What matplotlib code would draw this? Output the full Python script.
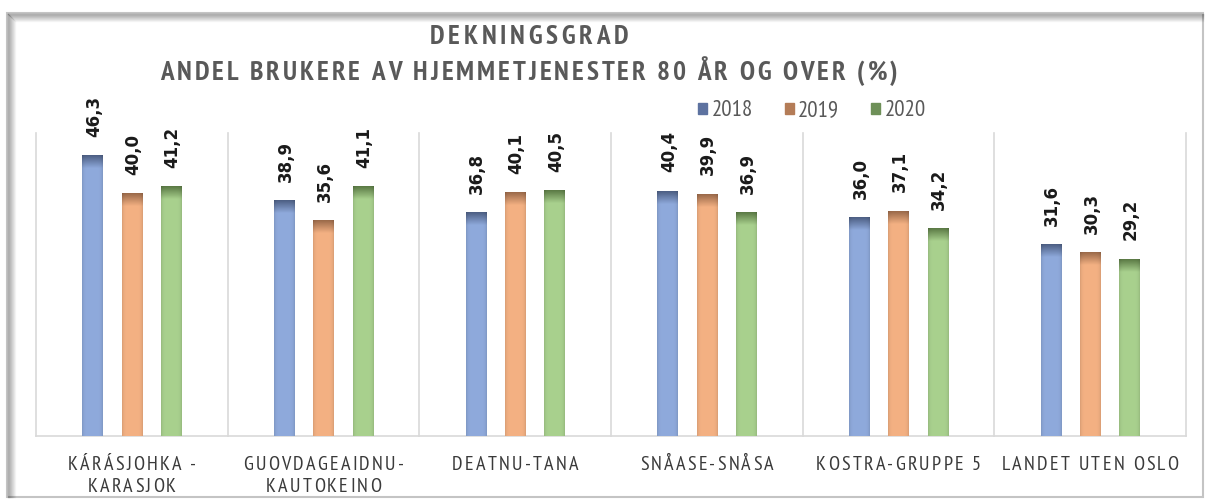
import numpy as np
import matplotlib
matplotlib.use("Agg")
import matplotlib.pyplot as plt
from matplotlib.font_manager import FontProperties, findfont, get_font
from matplotlib.transforms import offset_copy, blended_transform_factory
from matplotlib.patches import Patch, Rectangle
from matplotlib.lines import Line2D

# -----------------------------
# Data
# -----------------------------
categories = ["KÁRÁSJOHKA -\nKARASJOK", "GUOVDAGEAIDNU-\nKAUTOKEINO", "DEATNU-TANA",
              "SNÅASE-SNÅSA", "KOSTRA-GRUPPE 5", "LANDET UTEN OSLO"]
years = ["2018", "2019", "2020"]
values_2018 = [46.3, 38.9, 36.8, 40.4, 36.0, 31.6]
values_2019 = [40.0, 35.6, 40.1, 39.9, 37.1, 30.3]
values_2020 = [41.2, 41.1, 40.5, 36.9, 34.2, 29.2]

title_1 = "DEKNINGSGRAD"
title_2 = "ANDEL BRUKERE AV HJEMMETJENESTER 80 ÅR OG OVER (%)"

# light body colour, dark top colour, legend colour
light_cols = ["#8faadc", "#f4b183", "#a9d18e"]
dark_cols = ["#4d5f84", "#9b6a4a", "#5b7a45"]
legend_cols = ["#5d72a0", "#b47c57", "#6e9058"]

# Narrow humanist font for the texts (the chart looks horizontally squeezed)
FAMILY = ["PT Sans Narrow", "DejaVu Sans"]

W, H = 1205, 499
fig = plt.figure(figsize=(W / 100, H / 100), dpi=100)
ax = fig.add_axes([36 / W, 1 - 436 / H, (1186 - 36) / W, (436 - 133) / H])


def px(x, y):
    # converts figure pixels (from top-left) to figure fraction
    return x / W, 1 - y / H


def tracked_text(x, y, s, size, trans, target=None, track=0.0, weight="normal", color="#404040"):
    # draws text one character at a time so that letter spacing can be set
    fp = FontProperties(family=FAMILY, size=size, weight=weight)
    ft = get_font(findfont(fp))
    ft.set_size(size, 72)
    adv = [ft.load_char(ord(c)).linearHoriAdvance / 65536 for c in s]
    if target is not None:
        track = (target - sum(adv)) / (len(s) - 1)
    total = sum(adv) + track * (len(s) - 1)
    pos = -total / 2
    for c, a in zip(s, adv):
        fig.text(x, y, c, fontproperties=fp, color=color, ha="left", va="baseline",
                 transform=offset_copy(trans, fig=fig, x=pos, y=0, units="points"))
        pos += a + track


def shade_bar(patch, light, dark, fade=2.1):
    # paints a bar with a darker top fading into the body colour
    x0, y0 = patch.get_x(), patch.get_y()
    w, h = patch.get_width(), patch.get_height()
    lc = np.array(matplotlib.colors.to_rgb(light))
    dc = np.array(matplotlib.colors.to_rgb(dark))
    yy = np.linspace(0, h, 300)
    t = np.clip((h - yy) / fade, 0, 1)[:, None, None]
    img = dc + (lc - dc) * t
    xx = np.linspace(-1, 1, 24)
    edge = (1 - 0.10 * xx ** 6)[None, :, None]
    img = np.clip(img * edge, 0, 1)
    ax.imshow(img, extent=[x0, x0 + w, y0, y0 + h], origin="lower", aspect="auto",
              interpolation="bilinear", zorder=3)


# -----------------------------
# Bars
# -----------------------------
x = np.arange(len(categories))
offsets = [-0.205, 0.0, 0.205]
bar_w = 0.105
for vals, off, lc, dc in zip([values_2018, values_2019, values_2020], offsets, light_cols, dark_cols):
    bars = ax.bar(x + off, vals, width=bar_w, color=lc, zorder=2)
    for patch, v in zip(bars, vals):
        shade_bar(patch, lc, dc)
        ax.annotate(f"{v:.1f}".replace(".", ","), (patch.get_x() + bar_w / 2, v),
                    xytext=(1, 13.5), textcoords="offset points", rotation=90,
                    ha="center", va="bottom", fontsize=12, fontweight="bold",
                    family="DejaVu Sans", color="#1a1a1a")

ax.set_xlim(-0.5, len(categories) - 0.5)
ax.set_ylim(0, 50)
for b in np.arange(-0.5, len(categories)):
    ax.axvline(b, color="#d9d9d9", lw=1.2, zorder=1, clip_on=False)
for s in ["top", "left", "right"]:
    ax.spines[s].set_visible(False)
ax.spines["bottom"].set_color("#d9d9d9")
ax.spines["bottom"].set_linewidth(1.2)
ax.set_xticks([])
ax.set_yticks([])
ax.patch.set_alpha(0)

# -----------------------------
# Category labels
# -----------------------------
cat_trans = blended_transform_factory(ax.transData, fig.transFigure)
for i, cat in enumerate(categories):
    for j, line in enumerate(cat.split("\n")):
        tracked_text(i, 1 - (470 + 22 * j) / H, line, 14.5, cat_trans, track=1.6,
                     color="#3a3a3a")

# -----------------------------
# Title
# -----------------------------
tracked_text(529 / W, 1 - 44 / H, title_1, 19.5, fig.transFigure, target=198 * 0.72,
             weight="bold", color="#595959")
tracked_text(529 / W, 1 - 80 / H, title_2, 19.5, fig.transFigure, target=737 * 0.72,
             weight="bold", color="#595959")

# -----------------------------
# Legend
# -----------------------------
handles = [Patch(color=c, label=y) for c, y in zip(legend_cols, years)]
leg = fig.legend(handles=handles, loc="center", bbox_to_anchor=(812 / W, 1 - 111 / H),
                 ncol=3, frameon=False, handlelength=0.38, handleheight=0.38,
                 handletextpad=0.2, columnspacing=1.4,
                 prop=FontProperties(family=FAMILY, size=16.5))
for t in leg.get_texts():
    t.set_color("#595959")

# -----------------------------
# Chart frame with inner shadow
# -----------------------------
x0, y0 = px(7, 13)
x1, y1 = px(1203, 497)
fig.add_artist(Rectangle((x0, y1), x1 - x0, y0 - y1, transform=fig.transFigure,
                         fill=False, edgecolor="#c4c4c4", lw=1.5))
for k in range(1, 9):
    a = 0.30 * (1 - k / 9)
    fx = px(7 + k, 0)[0]
    fy = px(0, 13 + k)[1]
    fig.add_artist(Line2D([fx, fx], [y1, fy], transform=fig.transFigure, color="black",
                          alpha=a, lw=1))
    fig.add_artist(Line2D([fx, x1], [fy, fy], transform=fig.transFigure, color="black",
                          alpha=a, lw=1))

fig.savefig("out.png", dpi=100)
